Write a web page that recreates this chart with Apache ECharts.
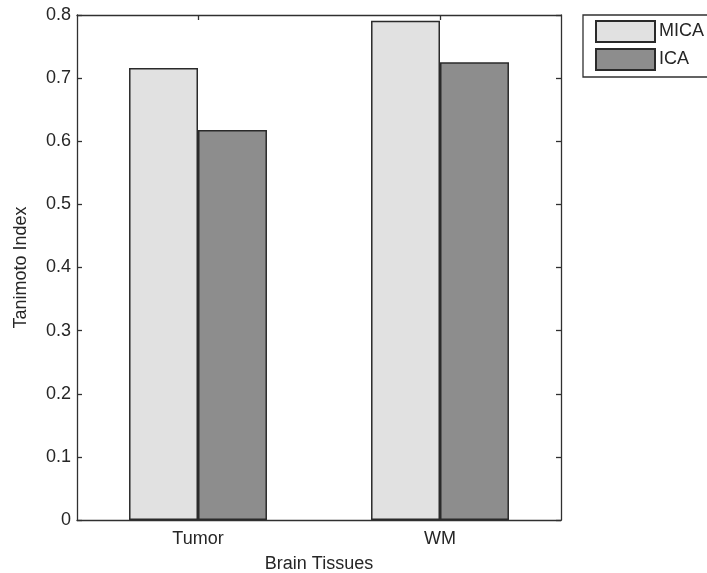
<!DOCTYPE html>
<html>
<head>
<meta charset="utf-8">
<script src="https://cdn.jsdelivr.net/npm/echarts@6/dist/echarts.min.js"></script>
<style>html,body{margin:0;padding:0;background:#fff;}#c{width:707px;height:573px;}</style>
</head>
<body>
<div id="c"></div>
<script>
var categories = ['Tumor', 'WM'];
var seriesNames = ['MICA', 'ICA'];
var micaValues = [0.716, 0.791];
var icaValues = [0.618, 0.725];
var yTicks = [0, 0.1, 0.2, 0.3, 0.4, 0.5, 0.6, 0.7, 0.8];

var FONT = "'Liberation Sans', Arial, sans-serif";
var TXT = '#262626';
var LINE = '#303030';

var tick = {show: true, inside: true, length: 5, interval: 0, alignWithLabel: true, lineStyle: {color: LINE, width: 1.3}};

var chart = echarts.init(document.getElementById('c'), null, {renderer: 'canvas'});
chart.setOption({
  animation: false,
  backgroundColor: '#fff',
  textStyle: {fontFamily: FONT},
  grid: {left: 77, right: 146, top: 15, bottom: 53, containLabel: false, outerBoundsMode: 'none'},
  legend: {
    data: seriesNames,
    orient: 'vertical',
    left: 583, top: 15,
    padding: [5, 80, 6, 12],
    itemWidth: 59, itemHeight: 21, itemGap: 5,
    icon: 'rect',
    borderColor: LINE, borderWidth: 1.3,
    textStyle: {fontFamily: FONT, fontSize: 18, lineHeight: 21, color: TXT, padding: [0, 0, 0, -1]}
  },
  xAxis: [{
    type: 'category', data: categories, position: 'bottom',
    name: 'Brain Tissues', nameLocation: 'middle', nameGap: 35,
    nameTextStyle: {fontFamily: FONT, fontSize: 18, color: TXT},
    axisLine: {show: true, onZero: false, lineStyle: {color: LINE, width: 1.3}},
    axisTick: tick,
    axisLabel: {fontFamily: FONT, fontSize: 18, color: TXT, margin: 10, interval: 0},
    splitLine: {show: false}
  }, {
    type: 'category', data: categories, position: 'top',
    axisLine: {show: true, onZero: false, lineStyle: {color: LINE, width: 1.3}},
    axisTick: tick,
    axisLabel: {show: false, interval: 0}, splitLine: {show: false}
  }],
  yAxis: [{
    type: 'value', min: 0, max: 0.8, interval: 0.1, position: 'left',
    name: 'Tanimoto Index', nameLocation: 'middle', nameGap: 47,
    nameTextStyle: {fontFamily: FONT, fontSize: 18, color: TXT},
    axisLine: {show: true, onZero: false, lineStyle: {color: LINE, width: 1.3}},
    axisTick: {show: true, inside: true, length: 5, lineStyle: {color: LINE, width: 1.3}},
    axisLabel: {fontFamily: FONT, fontSize: 18, color: TXT, margin: 6,
      formatter: function (v) { var i = yTicks.indexOf(Math.round(v * 10) / 10); return i >= 0 ? String(yTicks[i]) : ''; }},
    splitLine: {show: false}
  }, {
    type: 'value', min: 0, max: 0.8, interval: 0.1, position: 'right',
    axisLine: {show: true, onZero: false, lineStyle: {color: LINE, width: 1.3}},
    axisTick: {show: true, inside: true, length: 5, lineStyle: {color: LINE, width: 1.3}},
    axisLabel: {show: false}, splitLine: {show: false}
  }],
  series: [{
    name: seriesNames[0], type: 'bar', data: micaValues,
    barGap: '0%', barCategoryGap: '43%',
    itemStyle: {color: '#e1e1e1', borderColor: '#2a2a2a', borderWidth: 1.5}
  }, {
    name: seriesNames[1], type: 'bar', data: icaValues,
    barGap: '0%', barCategoryGap: '43%',
    itemStyle: {color: '#8d8d8d', borderColor: '#2a2a2a', borderWidth: 1.5}
  }]
});
</script>
</body>
</html>
